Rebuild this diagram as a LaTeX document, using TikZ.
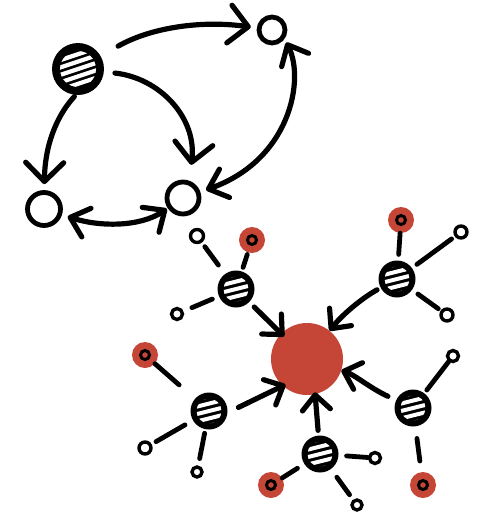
\documentclass[tikz,border=0pt]{standalone}
\usetikzlibrary{arrows.meta}
\definecolor{redc}{HTML}{C54536}
\begin{document}
\begin{tikzpicture}[x=1pt,y=-1pt,
  ink/.style={line width=5.2pt, line cap=round, line join=round},
  link/.style={line width=4.8pt, line cap=round},
  bigtip/.style={-{Straight Barb[length=19pt,width=38pt,round]}},
  bigtips/.style={{Straight Barb[length=17pt,width=30pt,round]}-{Straight Barb[length=17pt,width=30pt,round]}},
  redtip/.style={-{Straight Barb[length=15pt,width=28pt,round]}},
  plainnode/.style={circle, draw, line width=4.8pt, fill=white, inner sep=0pt, minimum size=#1},
  hatchbig/.style={circle, fill=black, inner sep=0pt, minimum size=52pt,
    path picture={\clip (path picture bounding box.center) circle[radius=18pt];
      \foreach \k in {-3,...,3}
        \draw[white, line width=4.2pt, line cap=round]
          ([shift={(-24pt,\k*7.4pt-8pt)}]path picture bounding box.center) -- ++(48pt,16pt);}},
  hatchsmall/.style={circle, fill=black, inner sep=0pt, minimum size=37pt,
    path picture={\clip (path picture bounding box.center) circle[radius=12.5pt];
      \foreach \k in {-2,...,2}
        \draw[white, line width=4pt, line cap=round]
          ([shift={(-16pt,\k*7.4pt-4pt)}]path picture bounding box.center) -- ++(32pt,8pt);}},
  hub/.style={circle, fill=redc, inner sep=0pt, minimum size=72pt},
  redsat/.style={circle, fill=redc, inner sep=0pt, minimum size=26pt,
    path picture={\draw[line width=3pt] (path picture bounding box.center) circle[radius=4.5pt];}},
  sat/.style={circle, draw, line width=3.4pt, fill=white, inner sep=0pt, minimum size=#1}
]
\useasboundingbox[fill=white] (0,0) rectangle (481,512);

% ---------- top graph ----------
\node[hatchbig] (B) at (78,69) {};
\node[plainnode=26pt] (T) at (272,30) {};
\node[plainnode=33pt] (L) at (44,209) {};
\node[plainnode=32pt] (M) at (183,198) {};

\draw[ink, bigtip, shorten <=20pt, shorten >=6pt] (B) .. controls (150,28) and (200,20) .. (T);
\draw[ink, bigtip, shorten <=11pt, shorten >=16pt] (B) .. controls (160,78) and (197,118) .. (M.70);
\draw[ink, bigtip, shorten <=2pt, shorten >=6pt] (B.265) .. controls (60,112) and (45,140) .. (L);
\draw[ink, bigtips, shorten <=6pt, shorten >=1pt] (L) .. controls (100,227) and (140,227) .. (M);
\draw[ink, bigtips, shorten <=6pt, shorten >=4pt] (M) .. controls (290,160) and (305,80) .. (T.-35);

% ---------- bottom graph ----------
\node[hub] (C) at (307,359) {};
\node[hatchsmall] (h1) at (236,289) {};
\node[hatchsmall] (h2) at (397,279) {};
\node[hatchsmall] (h3) at (209,411) {};
\node[hatchsmall] (h4) at (320,454) {};
\node[hatchsmall] (h5) at (413,408) {};

\node[redsat] (s1a) at (252,240) {};
\node[sat=13pt] (s1b) at (197,236) {};
\node[sat=11pt] (s1c) at (177,314) {};
\node[redsat] (s2a) at (401,220) {};
\node[sat=12pt] (s2b) at (461,232) {};
\node[sat=12pt] (s2c) at (447,315) {};
\node[redsat] (s3a) at (145,355) {};
\node[sat=12pt] (s3b) at (145,448) {};
\node[sat=10pt] (s3c) at (197,472) {};
\node[redsat] (s4a) at (271,485) {};
\node[sat=11pt] (s4b) at (375,458) {};
\node[sat=10pt] (s4c) at (357,505) {};
\node[sat=11pt] (s5a) at (453,356) {};
\node[redsat] (s5b) at (423,485) {};

\draw[link, shorten <=4pt, shorten >=2pt] (h1) -- (s1a);
\draw[link, shorten <=11pt, shorten >=5pt] (h1) -- (s1b);
\draw[link, shorten <=7pt, shorten >=9pt] (h1) -- (s1c);
\draw[link, shorten <=6pt, shorten >=0pt] (h2) -- (s2a);
\draw[link, shorten <=6pt, shorten >=4pt] (h2) -- (s2b);
\draw[link, shorten <=7pt, shorten >=3pt] (h2) -- (s2c);
\draw[link, shorten <=21pt, shorten >=0pt] (h3) -- (s3a);
\draw[link, shorten <=9pt, shorten >=5pt] (h3) -- (s3b);
\draw[link, shorten <=4pt, shorten >=7pt] (h3) -- (s3c);
\draw[link, shorten <=8pt, shorten >=0pt] (h4) -- (s4a);
\draw[link, shorten <=8pt, shorten >=0pt] (h4) -- (s4b);
\draw[link, shorten <=10pt, shorten >=6pt] (h4) -- (s4c);
\draw[link, shorten <=4pt, shorten >=0pt] (h5) -- (s5a);
\draw[link, shorten <=12pt, shorten >=11pt] (h5) -- (s5b);

\draw[ink, redtip, shorten <=7pt, shorten >=-4pt] (h1) -- (C);
\draw[ink, redtip, shorten <=4pt, shorten >=0pt] (h2) .. controls (362,298) and (342,315) .. (C);
\draw[ink, redtip, shorten <=12pt, shorten >=-3pt] (h3.-5) -- (C.228);
\draw[ink, redtip, shorten <=5pt, shorten >=-2pt] (h4) -- (C.-77);
\draw[ink, redtip, shorten <=9pt, shorten >=0pt] (h5) .. controls (370,388) and (355,375) .. (C);
\end{tikzpicture}
\end{document}
